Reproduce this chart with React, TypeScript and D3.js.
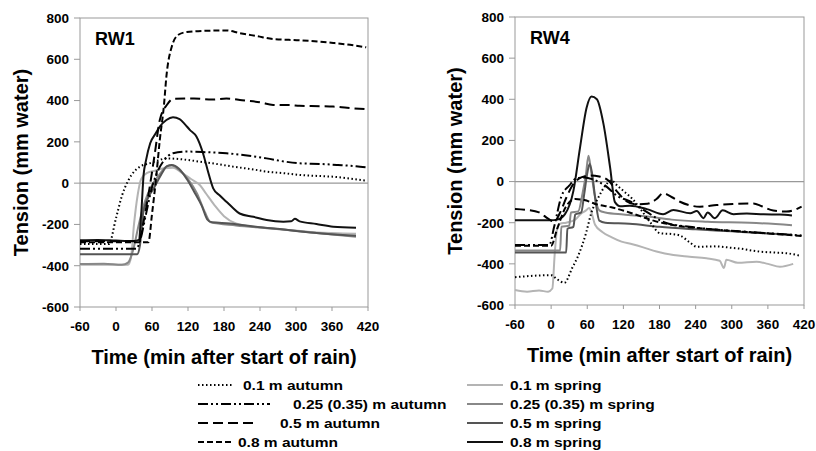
import React from 'react';
import * as d3 from 'd3';

// tick labels
const xTicks = [-60, 0, 60, 120, 180, 240, 300, 360, 420];
const yTicks = [-600, -400, -200, 0, 200, 400, 600, 800];

const seriesNames = [
  '0.1 m autumn',
  '0.25 (0.35) m autumn',
  '0.5 m autumn',
  '0.8 m autumn',
  '0.1 m spring',
  '0.25 (0.35) m spring',
  '0.5 m spring',
  '0.8 m spring',
];

// RW1 – [time, tension]
const rw1Aut01 = [[-60, -295], [-12, -295], [0, -170], [10, -60], [20, 10], [26, 40], [40, 80], [56, 96], [70, 110], [84, 120], [100, 118], [120, 112], [140, 104], [170, 92], [195, 80], [225, 68], [251, 56], [280, 48], [306, 40], [335, 35], [362, 31], [390, 22], [417, 12]];
const rw1Aut025 = [[-60, -318], [34, -318], [40, -280], [50, -150], [60, -20], [68, 48], [80, 110], [95, 145], [118, 153], [150, 150], [184, 145], [215, 135], [251, 120], [280, 105], [306, 96], [340, 93], [370, 88], [400, 82], [417, 77]];
const rw1Aut05 = [[-60, -282], [38, -282], [45, -200], [55, -40], [65, 150], [73, 306], [85, 380], [95, 408], [130, 410], [160, 405], [184, 410], [210, 402], [240, 392], [262, 379], [290, 378], [306, 375], [340, 373], [362, 371], [385, 365], [417, 358]];
const rw1Aut08 = [[-60, -286], [54, -286], [60, -150], [67, 30], [73, 209], [80, 380], [84, 517], [93, 662], [104, 719], [118, 732], [150, 738], [184, 740], [206, 727], [235, 712], [262, 698], [306, 692], [340, 685], [362, 679], [390, 670], [417, 658]];
const rw1Spr01 = [[-60, -395], [20, -395], [25, -360], [30, -200], [36, -60], [42, 20], [52, 50], [65, 60], [80, 72], [95, 75], [110, 50], [125, 20], [140, -10], [150, -50], [165, -110], [180, -160], [200, -195], [240, -215], [280, -225], [330, -238], [400, -245]];
const rw1Spr025 = [[-60, -392], [-20, -390], [10, -395], [20, -385], [28, -330], [38, -200], [48, -90], [60, -10], [72, 40], [84, 80], [93, 85], [105, 65], [120, 20], [135, -50], [148, -140], [158, -190], [200, -205], [260, -220], [330, -240], [400, -260]];
const rw1Spr05 = [[-60, -345], [35, -345], [40, -300], [45, -150], [52, -80], [62, -30], [75, 40], [85, 82], [93, 88], [105, 70], [118, 20], [130, -40], [143, -110], [152, -175], [160, -190], [190, -195], [230, -210], [280, -225], [330, -240], [400, -255]];
const rw1Spr08 = [[-60, -277], [-30, -275], [0, -278], [30, -280], [38, -275], [42, -150], [46, 40], [50, 110], [57, 193], [66, 240], [73, 274], [84, 306], [95, 319], [106, 310], [115, 285], [123, 258], [134, 226], [145, 145], [153, 60], [162, -25], [173, -60], [184, -90], [195, -120], [206, -147], [229, -163], [251, -179], [279, -187], [292, -185], [298, -173], [306, -185], [334, -198], [362, -211], [400, -216]];

// RW4 – [time, tension]
const rw4Aut01 = [[-60, -465], [-30, -458], [0, -455], [10, -475], [22, -492], [35, -420], [45, -360], [58, -250], [67, -150], [78, -80], [90, -20], [100, 5], [110, -20], [122, -50], [134, -81], [150, -140], [165, -200], [181, -251], [200, -255], [214, -262], [230, -295], [242, -317], [270, -315], [300, -322], [314, -326], [342, -339], [370, -345], [390, -348], [413, -360]];
const rw4Aut025 = [[-60, -308], [-3, -308], [5, -220], [17, -73], [30, -20], [42, 15], [55, 20], [70, 10], [90, -20], [110, -70], [134, -100], [160, -150], [190, -200], [230, -220], [280, -235], [330, -245], [380, -255], [416, -262]];
const rw4Aut05 = [[-60, -133], [-40, -138], [-20, -150], [-5, -180], [5, -195], [15, -150], [25, -80], [35, -20], [50, 20], [65, 30], [80, 25], [95, 5], [110, -50], [125, -95], [140, -110], [160, -108], [175, -85], [186, -57], [200, -75], [214, -98], [247, -122], [275, -114], [302, -109], [336, -106], [350, -120], [369, -141], [391, -146], [416, -122]];
const rw4Aut08 = [[-60, -312], [0, -312], [10, -230], [25, -120], [40, -85], [55, -90], [75, -110], [100, -125], [130, -150], [170, -190], [210, -215], [260, -230], [310, -242], [360, -252], [416, -265]];
const rw4Spr01 = [[-60, -527], [-40, -535], [-20, -530], [-5, -535], [2, -520], [6, -350], [10, -230], [15, -205], [25, -200], [40, -185], [50, -155], [58, -140], [63, -128], [68, -160], [73, -210], [85, -245], [100, -270], [117, -292], [135, -305], [153, -320], [175, -340], [203, -357], [230, -365], [258, -373], [280, -385], [287, -420], [291, -380], [310, -395], [341, -390], [360, -400], [380, -414], [402, -400]];
const rw4Spr025 = [[-60, -335], [15, -335], [17, -220], [30, -215], [33, -150], [45, -145], [52, -60], [58, 40], [62, 125], [66, 60], [72, -60], [80, -140], [90, -150], [120, -160], [160, -170], [200, -185], [260, -195], [330, -200], [400, -212]];
const rw4Spr05 = [[-60, -345], [25, -345], [27, -230], [37, -220], [40, -160], [50, -150], [55, -60], [60, 40], [64, 85], [68, 40], [74, -100], [80, -190], [90, -200], [130, -205], [180, -220], [240, -232], [300, -242], [360, -252], [400, -258]];
const rw4Spr08 = [[-60, -188], [0, -188], [10, -185], [23, -158], [37, -45], [48, 165], [59, 360], [67, 413], [76, 400], [87, 279], [98, 68], [106, -100], [115, -120], [131, -118], [159, -134], [186, -159], [203, -138], [231, -154], [242, -143], [253, -178], [260, -150], [272, -178], [285, -140], [303, -159], [325, -155], [353, -159], [380, -160], [400, -165]];

const styles = [
  { color: '#000', width: 2, dash: '1.5,2.5' },
  { color: '#000', width: 2, dash: '10,3,2,3,2,3' },
  { color: '#000', width: 2, dash: '10,5' },
  { color: '#000', width: 2, dash: '6,3' },
  { color: '#b4b4b4', width: 2, dash: null },
  { color: '#888', width: 2, dash: null },
  { color: '#555', width: 2, dash: null },
  { color: '#111', width: 2, dash: null },
];

const rw1 = [rw1Aut01, rw1Aut025, rw1Aut05, rw1Aut08, rw1Spr01, rw1Spr025, rw1Spr05, rw1Spr08];
const rw4 = [rw4Aut01, rw4Aut025, rw4Aut05, rw4Aut08, rw4Spr01, rw4Spr025, rw4Spr05, rw4Spr08];

const font = 'Arial, "Liberation Sans", sans-serif';
const axisGray = '#999';

const Panel = ({ data, label, left, right, top, bottom, titleX }) => {
  const x = d3.scaleLinear().domain([-60, 420]).range([left, right]);
  const y = d3.scaleLinear().domain([-600, 800]).range([bottom, top]);
  const line = d3
    .line()
    .x((d) => x(d[0]))
    .y((d) => y(d[1]))
    .curve(d3.curveMonotoneX);
  // draw spring first, autumn on top
  const order = [4, 5, 6, 7, 0, 1, 2, 3];

  return (
    <g>
      <rect x={left} y={top} width={right - left} height={bottom - top} fill="none" stroke={axisGray} strokeWidth={1} />
      <line x1={left} x2={right} y1={y(0)} y2={y(0)} stroke={axisGray} strokeWidth={1.2} />
      {yTicks.map((t) => (
        <g key={'y' + t}>
          <line x1={left - 6} x2={left} y1={y(t)} y2={y(t)} stroke={axisGray} />
          <text x={left - 11} y={y(t)} dy="0.36em" textAnchor="end" fontSize={13.5} fontWeight="bold" fontFamily={font}>
            {t}
          </text>
        </g>
      ))}
      {xTicks.map((t) => (
        <g key={'x' + t}>
          <line x1={x(t)} x2={x(t)} y1={bottom} y2={bottom + 4} stroke={axisGray} />
          <text x={x(t)} y={bottom + 24} textAnchor="middle" fontSize={13.5} fontWeight="bold" fontFamily={font}>
            {t}
          </text>
        </g>
      ))}
      {order.map((i) => (
        <path
          key={i}
          d={line(data[i])}
          fill="none"
          stroke={styles[i].color}
          strokeWidth={styles[i].width}
          strokeDasharray={styles[i].dash || undefined}
          strokeLinejoin="round"
        />
      ))}
      <text x={left + 15} y={top + 27} fontSize={18} fontWeight="bold" fontFamily={font}>
        {label}
      </text>
      <text
        transform={`translate(${titleX},${(top + bottom) / 2}) rotate(-90)`}
        textAnchor="middle"
        fontSize={20}
        fontWeight="bold"
        fontFamily={font}
      >
        Tension (mm water)
      </text>
      <text x={(left + right) / 2} y={bottom + 57} textAnchor="middle" fontSize={20} fontWeight="bold" fontFamily={font}>
        Time (min after start of rain)
      </text>
    </g>
  );
};

const legendRows = [385, 404, 423, 442];
const legendLeft = [
  { x2: 232, tx: 243 },
  { x2: 270, tx: 293 },
  { x2: 258, tx: 280 },
  { x2: 232, tx: 238 },
];

const App = () => {
  return (
    <svg width={816} height={451} style={{ position: 'absolute', left: 0, top: 0, background: '#fff' }}>
      <rect width={816} height={451} fill="#fff" />
      <Panel data={rw1} label="RW1" left={80} right={368} top={18} bottom={307} titleX={28} />
      <Panel data={rw4} label="RW4" left={515} right={804} top={17} bottom={305} titleX={462} />
      {legendRows.map((ry, i) => (
        <g key={'la' + i}>
          <line x1={198} x2={legendLeft[i].x2} y1={ry} y2={ry} stroke={styles[i].color} strokeWidth={2} strokeDasharray={styles[i].dash} />
          <text transform={`translate(${legendLeft[i].tx},${ry + 5}) scale(1.15,1)`} fontSize={13.5} fontWeight="bold" fontFamily={font}>
            {seriesNames[i]}
          </text>
        </g>
      ))}
      {legendRows.map((ry, i) => (
        <g key={'ls' + i}>
          <line x1={467} x2={503} y1={ry} y2={ry} stroke={styles[i + 4].color} strokeWidth={2} />
          <text transform={`translate(510,${ry + 5}) scale(1.15,1)`} fontSize={13.5} fontWeight="bold" fontFamily={font}>
            {seriesNames[i + 4]}
          </text>
        </g>
      ))}
    </svg>
  );
};

export default App;
